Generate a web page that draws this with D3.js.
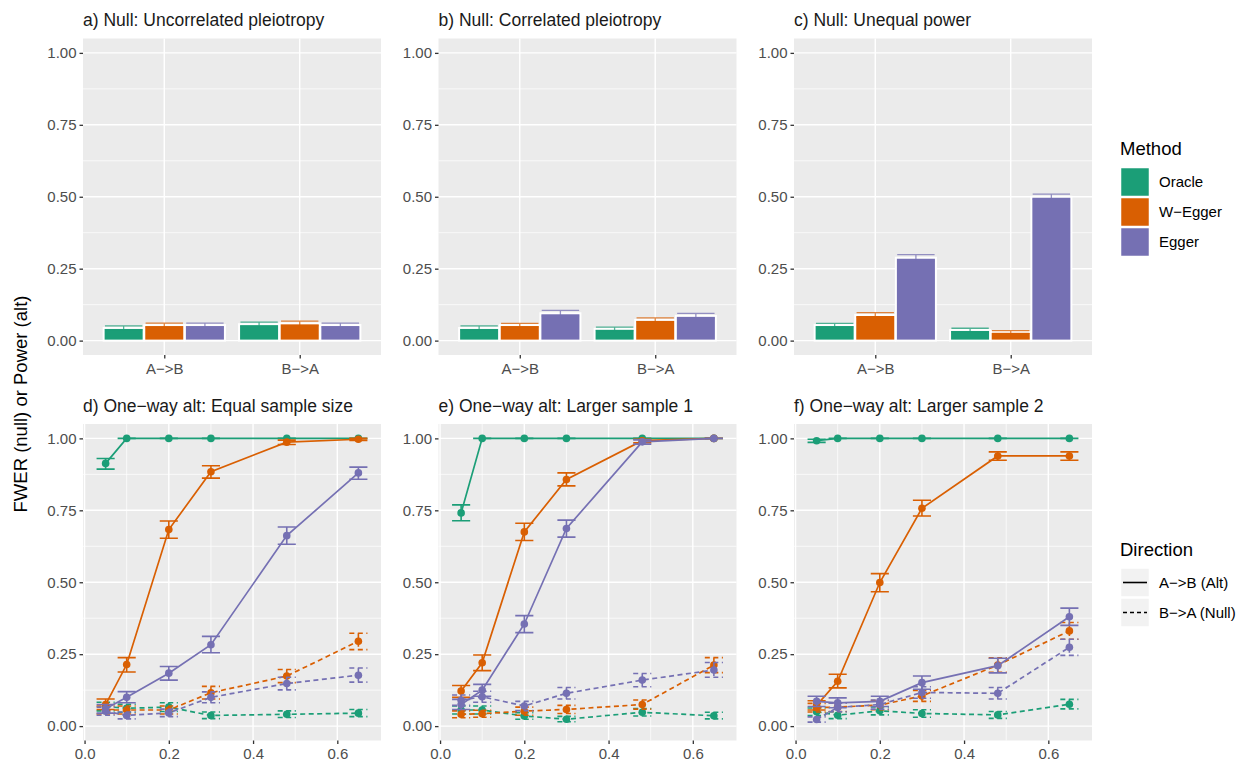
<!DOCTYPE html>
<html>
<head>
<meta charset="utf-8">
<script src="https://cdn.jsdelivr.net/npm/d3@7"></script>
<style>
  body { margin: 0; background: #fff; }
  text { font-family: "Liberation Sans", Arial, sans-serif; }
</style>
</head>
<body>
<svg id="chart" width="1239" height="763"></svg>
<script>
// ---------- data ----------
const methods = ["Oracle", "W\u2212Egger", "Egger"];
const directions = ["A\u2212>B", "B\u2212>A"];
const directionLabels = ["A\u2212>B (Alt)", "B\u2212>A (Null)"];
const yTicks = [0, 0.25, 0.5, 0.75, 1];
const yMinor = [0.125, 0.375, 0.625, 0.875];
const xTicks = [0, 0.2, 0.4, 0.6];
const xMinor = [0.1, 0.3, 0.5];
const effectSizes = [0.05, 0.1, 0.2, 0.3, 0.48, 0.65];

const barTitles = ["a) Null: Uncorrelated pleiotropy", "b) Null: Correlated pleiotropy", "c) Null: Unequal power"];
const lineTitles = ["d) One\u2212way alt: Equal sample size", "e) One\u2212way alt: Larger sample 1", "f) One\u2212way alt: Larger sample 2"];

// null scenarios: rows = direction, columns = method
const uncorrEst = [[0.044, 0.054, 0.054], [0.057, 0.060, 0.054]];
const uncorrLo  = [[0.037, 0.047, 0.047], [0.050, 0.052, 0.047]];
const uncorrHi  = [[0.051, 0.061, 0.061], [0.064, 0.068, 0.061]];

const corrEst = [[0.044, 0.054, 0.095], [0.041, 0.072, 0.086]];
const corrLo  = [[0.037, 0.048, 0.085], [0.035, 0.065, 0.077]];
const corrHi  = [[0.051, 0.060, 0.105], [0.047, 0.079, 0.095]];

const unequalEst = [[0.054, 0.089, 0.288], [0.037, 0.030, 0.500]];
const unequalLo  = [[0.048, 0.081, 0.277], [0.031, 0.025, 0.491]];
const unequalHi  = [[0.060, 0.097, 0.299], [0.043, 0.035, 0.509]];

// one-way alternative scenarios: one entry per method x direction
const equalSample = [
  { method: 0, dir: 0, est: [0.913, 1, 1, 1, 1, 1], lo: [0.893, 1, 1, 1, 1, 1], hi: [0.930, 1, 1, 1, 1, 1] },
  { method: 0, dir: 1, est: [0.068, 0.062, 0.066, 0.037, 0.041, 0.045], lo: [0.053, 0.048, 0.051, 0.026, 0.030, 0.033], hi: [0.083, 0.076, 0.081, 0.049, 0.053, 0.058] },
  { method: 1, dir: 0, est: [0.075, 0.214, 0.683, 0.884, 0.987, 0.997], lo: [0.058, 0.188, 0.653, 0.862, 0.979, 0.993], hi: [0.094, 0.238, 0.713, 0.905, 0.994, 1.0] },
  { method: 1, dir: 1, est: [0.056, 0.056, 0.056, 0.116, 0.174, 0.295], lo: [0.042, 0.042, 0.042, 0.094, 0.151, 0.266], hi: [0.070, 0.070, 0.070, 0.138, 0.197, 0.323] },
  { method: 2, dir: 0, est: [0.060, 0.100, 0.184, 0.283, 0.662, 0.880], lo: [0.045, 0.081, 0.160, 0.255, 0.632, 0.858], hi: [0.075, 0.120, 0.207, 0.312, 0.692, 0.900] },
  { method: 2, dir: 1, est: [0.052, 0.037, 0.046, 0.100, 0.148, 0.177], lo: [0.038, 0.025, 0.033, 0.081, 0.126, 0.153], hi: [0.066, 0.049, 0.059, 0.119, 0.170, 0.202] }
];
const largerSample1 = [
  { method: 0, dir: 0, est: [0.741, 1, 1, 1, 1, 1], lo: [0.714, 1, 1, 1, 1, 1], hi: [0.769, 1, 1, 1, 1, 1] },
  { method: 0, dir: 1, est: [0.056, 0.056, 0.035, 0.024, 0.048, 0.036], lo: [0.042, 0.042, 0.024, 0.015, 0.035, 0.025], hi: [0.070, 0.070, 0.047, 0.034, 0.061, 0.048] },
  { method: 1, dir: 0, est: [0.122, 0.220, 0.675, 0.857, 0.992, 1.0], lo: [0.100, 0.193, 0.645, 0.835, 0.985, 1.0], hi: [0.141, 0.247, 0.705, 0.880, 0.997, 1.0] },
  { method: 1, dir: 1, est: [0.041, 0.043, 0.052, 0.058, 0.075, 0.212], lo: [0.029, 0.031, 0.038, 0.044, 0.059, 0.186], hi: [0.053, 0.055, 0.066, 0.072, 0.091, 0.238] },
  { method: 2, dir: 0, est: [0.075, 0.125, 0.355, 0.687, 0.988, 1.0], lo: [0.058, 0.104, 0.325, 0.657, 0.980, 1.0], hi: [0.093, 0.145, 0.384, 0.716, 0.995, 1.0] },
  { method: 2, dir: 1, est: [0.090, 0.102, 0.070, 0.114, 0.160, 0.195], lo: [0.072, 0.083, 0.054, 0.094, 0.137, 0.170], hi: [0.108, 0.121, 0.086, 0.134, 0.183, 0.221] }
];
const largerSample2 = [
  { method: 0, dir: 0, est: [0.992, 1, 1, 1, 1, 1], lo: [0.986, 1, 1, 1, 1, 1], hi: [0.997, 1, 1, 1, 1, 1] },
  { method: 0, dir: 1, est: [0.050, 0.038, 0.053, 0.044, 0.039, 0.076], lo: [0.037, 0.026, 0.039, 0.031, 0.027, 0.060], hi: [0.063, 0.050, 0.067, 0.057, 0.051, 0.093] },
  { method: 1, dir: 0, est: [0.072, 0.156, 0.499, 0.757, 0.939, 0.939], lo: [0.056, 0.133, 0.467, 0.730, 0.924, 0.924], hi: [0.088, 0.180, 0.530, 0.785, 0.953, 0.953] },
  { method: 1, dir: 1, est: [0.064, 0.066, 0.073, 0.105, 0.212, 0.331], lo: [0.049, 0.051, 0.057, 0.086, 0.187, 0.302], hi: [0.079, 0.081, 0.089, 0.124, 0.237, 0.360] },
  { method: 2, dir: 0, est: [0.086, 0.081, 0.086, 0.151, 0.210, 0.380], lo: [0.068, 0.064, 0.068, 0.128, 0.185, 0.350], hi: [0.104, 0.098, 0.104, 0.174, 0.236, 0.410] },
  { method: 2, dir: 1, est: [0.023, 0.065, 0.075, 0.117, 0.114, 0.274], lo: [0.014, 0.050, 0.059, 0.097, 0.094, 0.246], hi: [0.032, 0.080, 0.091, 0.137, 0.134, 0.302] }
];

// ---------- style & layout ----------
const colors = ["#1b9e77", "#d95f02", "#7570b3"];
const dash = "5,3.5";
const W = 298, H = 316.5;
const colX = [83, 438.5, 794];
const rowY = [38.5, 424];
const tickCol = "#333333", labCol = "#4d4d4d";

const svg = d3.select("#chart");

function frame(x0, y0, y, vMajor, vMinor, x) {
  const g = svg.append("g");
  g.append("rect").attr("x", x0).attr("y", y0).attr("width", W).attr("height", H).attr("fill", "#ebebeb");
  // minor grid
  yMinor.forEach(v => g.append("line").attr("x1", x0).attr("x2", x0 + W).attr("y1", y(v)).attr("y2", y(v))
    .attr("stroke", "#fff").attr("stroke-width", 0.7));
  vMinor.forEach(v => g.append("line").attr("y1", y0).attr("y2", y0 + H).attr("x1", x(v)).attr("x2", x(v))
    .attr("stroke", "#fff").attr("stroke-width", 0.7));
  // major grid
  yTicks.forEach(v => g.append("line").attr("x1", x0).attr("x2", x0 + W).attr("y1", y(v)).attr("y2", y(v))
    .attr("stroke", "#fff").attr("stroke-width", 1.4));
  vMajor.forEach(v => g.append("line").attr("y1", y0).attr("y2", y0 + H).attr("x1", x(v)).attr("x2", x(v))
    .attr("stroke", "#fff").attr("stroke-width", 1.4));
  // y axis
  const ya = svg.append("g").attr("transform", `translate(${x0},0)`)
    .call(d3.axisLeft(y).tickValues(yTicks).tickFormat(d3.format(".2f")).tickSize(3.5).tickPadding(3));
  ya.select(".domain").remove();
  ya.selectAll("line").attr("stroke", tickCol).attr("stroke-width", 1.3);
  ya.selectAll("text").attr("fill", labCol).style("font-size", "15px").style("font-family", "'Liberation Sans', Arial, sans-serif");
  return g;
}

function xAxis(x0, y0, x, values, fmt) {
  const xa = svg.append("g").attr("transform", `translate(0,${y0 + H})`)
    .call(d3.axisBottom(x).tickValues(values).tickFormat(fmt).tickSize(3.5).tickPadding(4.5));
  xa.select(".domain").remove();
  xa.selectAll("line").attr("stroke", tickCol).attr("stroke-width", 1.3);
  xa.selectAll("text").attr("fill", labCol).style("font-size", "15px").style("font-family", "'Liberation Sans', Arial, sans-serif");
}

function title(x0, y0, txt) {
  svg.append("text").attr("x", x0).attr("y", y0 - 12.5).attr("fill", "#1a1a1a")
    .style("font-size", "17.5px").text(txt);
}

// ---------- top row: bar charts ----------
const barSets = [[uncorrEst, uncorrLo, uncorrHi], [corrEst, corrLo, corrHi], [unequalEst, unequalLo, unequalHi]];
barSets.forEach(([est, lo, hi], p) => {
  const x0 = colX[p], y0 = rowY[0];
  const y = d3.scaleLinear().domain([-0.05, 1.05]).range([y0 + H, y0]);
  const x = d3.scalePoint().domain(directions).range([x0, x0 + W]).padding(0.6);
  const step = x.step();
  const dodge = d3.scaleBand().domain(methods).range([-0.45 * step, 0.45 * step]);
  const g = frame(x0, y0, y, directions, [], x);
  directions.forEach((d, i) => {
    methods.forEach((m, j) => {
      const cx = x(d) + dodge(m) + dodge.bandwidth() / 2;
      const bw = dodge.bandwidth() * 0.985;
      g.append("rect").attr("x", cx - bw / 2).attr("width", bw)
        .attr("y", y(est[i][j])).attr("height", y(0) - y(est[i][j]))
        .attr("fill", colors[j]).attr("stroke", "#fff").attr("stroke-width", 2);
    });
  });
  directions.forEach((d, i) => {
    methods.forEach((m, j) => {
      const cx = x(d) + dodge(m) + dodge.bandwidth() / 2;
      const hw = dodge.bandwidth() * 0.46;
      g.append("path")
        .attr("d", `M${cx - hw},${y(hi[i][j])}H${cx + hw}M${cx},${y(hi[i][j])}V${y(lo[i][j])}M${cx - hw},${y(lo[i][j])}H${cx + hw}`)
        .attr("fill", "none").attr("stroke", colors[j]).attr("stroke-opacity", 0.75).attr("stroke-width", 1.3);
    });
  });
  xAxis(x0, y0, x, directions, d => d);
  title(x0, y0, barTitles[p]);
});

// ---------- bottom row: power curves ----------
const lineSets = [equalSample, largerSample1, largerSample2];
lineSets.forEach((series, p) => {
  const x0 = colX[p], y0 = rowY[1];
  const y = d3.scaleLinear().domain([-0.05, 1.05]).range([y0 + H, y0]);
  const x = d3.scaleLinear().domain([-0.0037, 0.7037]).range([x0, x0 + W]);
  const g = frame(x0, y0, y, xTicks, xMinor, x);
  const hw = (x(0.0215) - x(0));
  series.forEach(s => {
    const pts = effectSizes.map((e, k) => ({ x: e, est: s.est[k], lo: s.lo[k], hi: s.hi[k] }));
    const col = colors[s.method];
    const da = s.dir === 1 ? dash : null;
    pts.forEach(d => {
      const cx = x(d.x);
      g.append("path")
        .attr("d", `M${cx - hw},${y(d.hi)}H${cx + hw}M${cx},${y(d.hi)}V${y(d.lo)}M${cx - hw},${y(d.lo)}H${cx + hw}`)
        .attr("fill", "none").attr("stroke", col).attr("stroke-width", 1.6).attr("stroke-dasharray", da);
    });
    g.append("path").datum(pts)
      .attr("d", d3.line().x(d => x(d.x)).y(d => y(d.est)))
      .attr("fill", "none").attr("stroke", col).attr("stroke-width", 1.7).attr("stroke-dasharray", da);
    g.selectAll(null).data(pts).enter().append("circle")
      .attr("cx", d => x(d.x)).attr("cy", d => y(d.est)).attr("r", 3.8).attr("fill", col);
  });
  xAxis(x0, y0, x, xTicks, d3.format(".1f"));
  title(x0, y0, lineTitles[p]);
});

// ---------- y axis title ----------
svg.append("text").attr("transform", "translate(27,404) rotate(-90)")
  .attr("text-anchor", "middle").attr("fill", "#000").style("font-size", "18.5px")
  .text("FWER (null) or Power (alt)");

// ---------- legends ----------
const lg = svg.append("g");
lg.append("text").attr("x", 1120).attr("y", 155).style("font-size", "18.5px").attr("fill", "#000").text("Method");
methods.forEach((m, i) => {
  const ky = 167.5 + i * 30;
  lg.append("rect").attr("x", 1120.5).attr("y", ky).attr("width", 29).attr("height", 29)
    .attr("fill", colors[i]).attr("stroke", "#fff").attr("stroke-width", 1.5);
  lg.append("text").attr("x", 1159).attr("y", ky + 14.5).attr("dy", "0.35em")
    .style("font-size", "15px").attr("fill", "#000").text(m);
});
lg.append("text").attr("x", 1120).attr("y", 556).style("font-size", "18.5px").attr("fill", "#000").text("Direction");
directionLabels.forEach((t, i) => {
  const ky = 568 + i * 30;
  lg.append("rect").attr("x", 1120.5).attr("y", ky).attr("width", 29).attr("height", 29)
    .attr("fill", "#f2f2f2").attr("stroke", "#fff").attr("stroke-width", 1.5);
  lg.append("line").attr("x1", 1123).attr("x2", 1147).attr("y1", ky + 14.5).attr("y2", ky + 14.5)
    .attr("stroke", "#000").attr("stroke-width", 1.6).attr("stroke-dasharray", i === 1 ? "4,3" : null);
  lg.append("text").attr("x", 1159).attr("y", ky + 14.5).attr("dy", "0.35em")
    .style("font-size", "15px").attr("fill", "#000").text(t);
});
</script>
</body>
</html>
